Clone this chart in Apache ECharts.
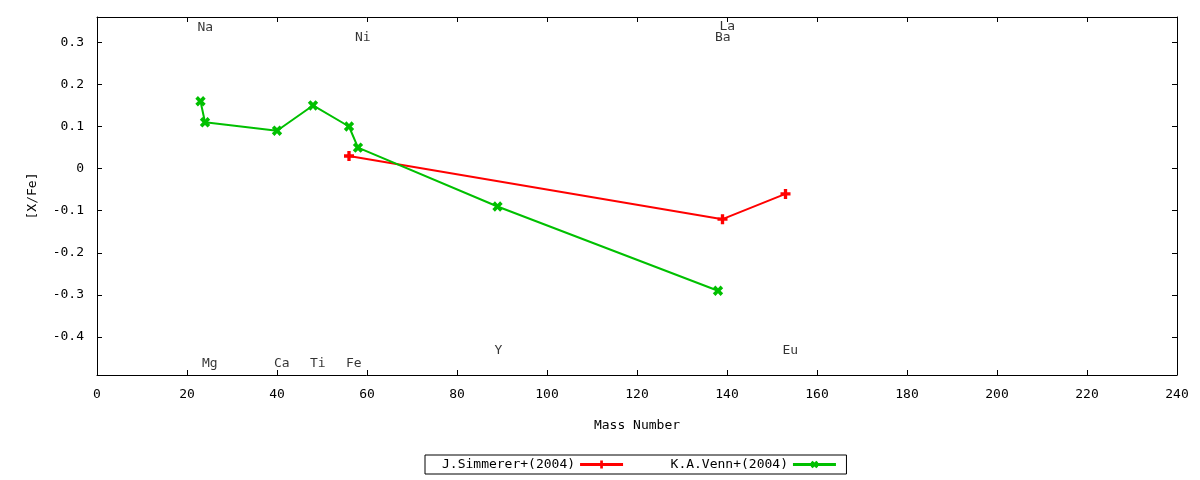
<!DOCTYPE html>
<html>
<head>
<meta charset="utf-8">
<script src="https://cdn.jsdelivr.net/npm/echarts@6/dist/echarts.min.js"></script>
<style>html,body{margin:0;padding:0;background:#fff}#c{width:1200px;height:480px}</style>
</head>
<body>
<div id="c"></div>
<script>
// Data
const simmererMass = [56, 139, 153];
const simmererVal = [0.03, -0.12, -0.06];
const vennMass = [23, 24, 40, 48, 56, 58, 89, 138];
const vennVal = [0.16, 0.11, 0.09, 0.15, 0.10, 0.05, -0.09, -0.29];
const elemNames = ['Na', 'Mg', 'Ca', 'Ti', 'Fe', 'Ni', 'Y', 'Ba', 'La', 'Eu'];
const elemMass = [23, 24, 40, 48, 56, 58, 89, 138, 139, 153];
const elemLabelY = [0.335, -0.463, -0.463, -0.463, -0.463, 0.312, -0.431, 0.312, 0.336, -0.431];
const xTicks = [0, 20, 40, 60, 80, 100, 120, 140, 160, 180, 200, 220, 240];
const yTicks = [-0.4, -0.3, -0.2, -0.1, 0, 0.1, 0.2, 0.3];

const FONT = 'DejaVu Sans Mono';
const plusPath = 'path://M-1,-3L1,-3L1,-1L3,-1L3,1L1,1L1,3L-1,3L-1,1L-3,1L-3,-1L-1,-1Z';

const chart = echarts.init(document.getElementById('c'));
const fmtY = v => (Math.abs(v) < 1e-9 ? '0' : (Math.round(v * 10) / 10).toFixed(1));
const tickInside = { show: true, inside: true, length: 5, lineStyle: { color: '#000', width: 1 } };

chart.setOption({
  animation: false,
  backgroundColor: '#fff',
  textStyle: { fontFamily: FONT },
  grid: { left: 97, right: 23, top: 17, bottom: 105 },
  legend: {
    data: ['J.Simmerer+(2004)', 'K.A.Venn+(2004)'],
    left: 425, top: 455,
    align: 'right',
    itemWidth: 43, itemHeight: 10,
    itemGap: 46,
    padding: [3, 9, 3, 17],
    borderColor: '#000', borderWidth: 1, borderRadius: 0,
    lineStyle: { width: 3 },
    textStyle: { fontFamily: FONT, fontSize: 13, color: '#000' }
  },
  xAxis: [{
    type: 'value', min: 0, max: 240, interval: 20,
    name: 'Mass Number', nameLocation: 'middle', nameGap: 44,
    nameTextStyle: { fontFamily: FONT, fontSize: 13, color: '#000' },
    axisLine: { show: true, onZero: false, lineStyle: { color: '#000', width: 1 } },
    axisTick: tickInside,
    axisLabel: { fontFamily: FONT, fontSize: 13, color: '#000', margin: 13 },
    splitLine: { show: false }
  }, {
    type: 'value', min: 0, max: 240, interval: 20, position: 'top',
    axisLine: { show: true, onZero: false, lineStyle: { color: '#000', width: 1 } },
    axisTick: tickInside, axisLabel: { show: false }, splitLine: { show: false }
  }],
  yAxis: [{
    type: 'value', min: -0.49, max: 0.36,
    name: '[X/Fe]', nameLocation: 'middle', nameGap: 58, nameRotate: 90,
    nameTextStyle: { fontFamily: FONT, fontSize: 13, color: '#000' },
    axisLine: { show: true, onZero: false, lineStyle: { color: '#000', width: 1 } },
    axisTick: Object.assign({ customValues: yTicks }, tickInside),
    axisLabel: { customValues: yTicks, formatter: fmtY, fontFamily: FONT, fontSize: 13, color: '#000', margin: 13 },
    splitLine: { show: false }
  }, {
    type: 'value', min: -0.49, max: 0.36, position: 'right',
    axisLine: { show: true, onZero: false, lineStyle: { color: '#000', width: 1 } },
    axisTick: Object.assign({ customValues: yTicks }, tickInside),
    axisLabel: { show: false, customValues: yTicks }, splitLine: { show: false }
  }],
  series: [{
    name: 'J.Simmerer+(2004)', type: 'line',
    data: simmererMass.map((m, i) => [m, simmererVal[i]]),
    symbol: plusPath, symbolSize: 10, showAllSymbol: true,
    lineStyle: { color: '#ff0000', width: 2 },
    itemStyle: { color: '#ff0000' },
    color: '#ff0000'
  }, {
    name: 'K.A.Venn+(2004)', type: 'line',
    data: vennMass.map((m, i) => [m, vennVal[i]]),
    symbol: plusPath, symbolSize: 11, symbolRotate: 45, showAllSymbol: true,
    lineStyle: { color: '#00c000', width: 2 },
    itemStyle: { color: '#00c000' },
    color: '#00c000'
  }, {
    name: 'labels', type: 'scatter', silent: true, clip: false,
    symbolSize: 0,
    data: elemNames.map((n, i) => ({ value: [elemMass[i], elemLabelY[i]], name: n })),
    label: {
      show: true, position: 'right', distance: 0, offset: [-3, 0],
      formatter: p => p.name,
      fontFamily: FONT, fontSize: 13, color: '#000'
    }
  }]
});
</script>
</body>
</html>
